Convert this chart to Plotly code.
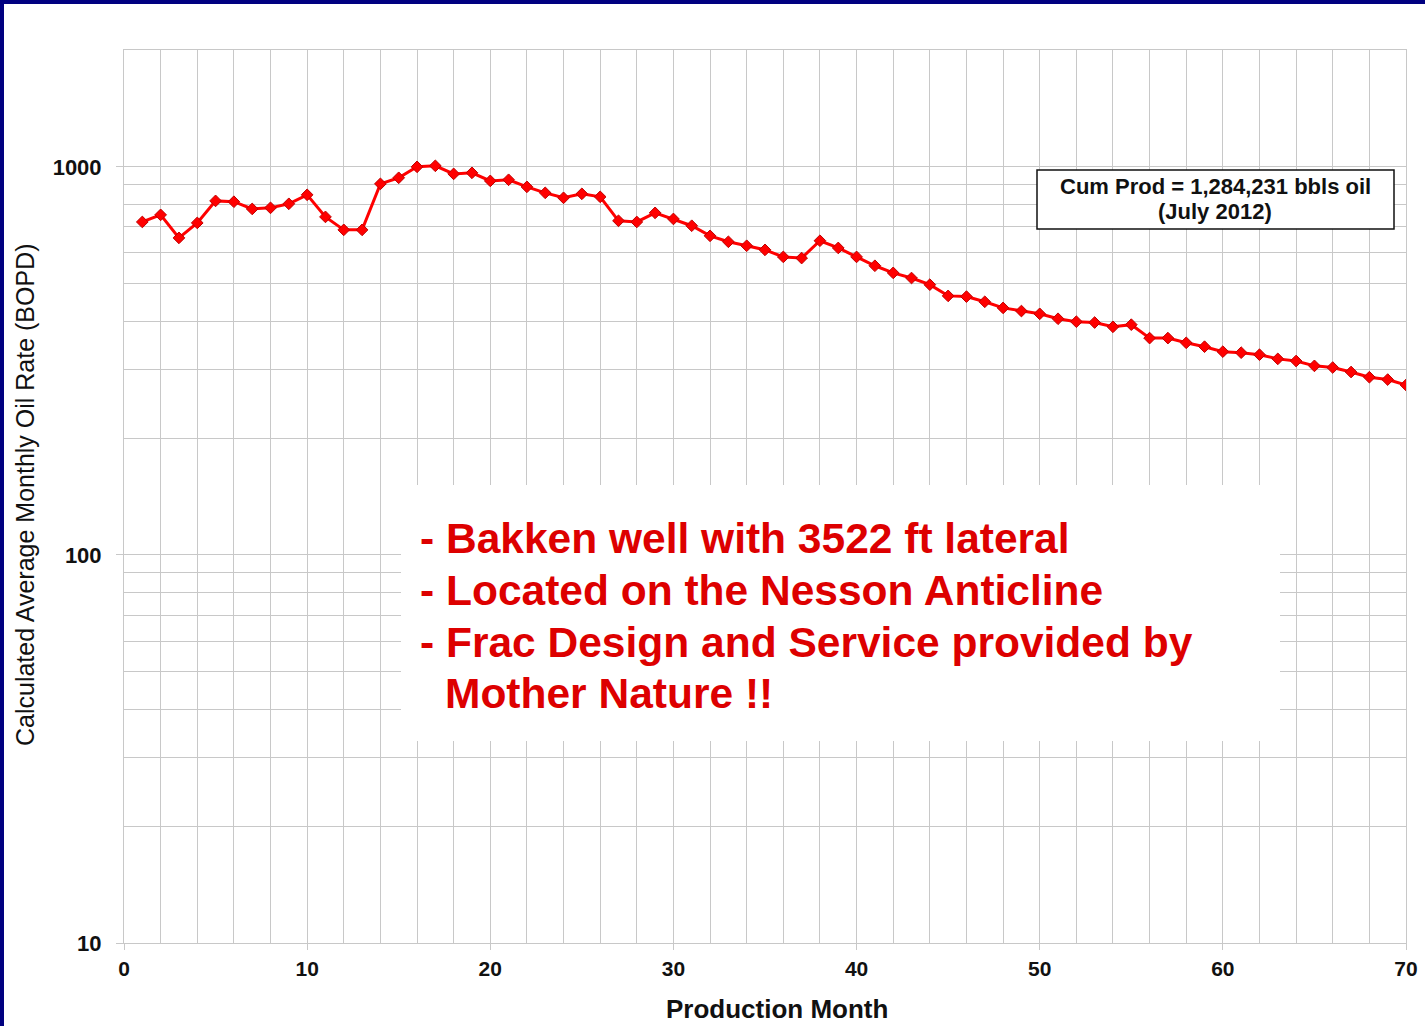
import plotly.graph_objects as go

# Average monthly oil rate of a Bakken well, by production month
months = list(range(1, 71))
oil_rate_bopd = [
    721, 752, 656, 717, 817, 813, 779, 784, 803, 847,
    743, 688, 688, 904, 937, 1000, 1006, 959, 965, 920,
    926, 888, 857, 832, 852, 837, 726, 721, 761, 734,
    705, 664, 641, 626, 611, 586, 582, 645, 618, 586,
    556, 533, 517, 497, 465, 463, 449, 433, 425, 418,
    406, 399, 397, 387, 392, 362, 362, 352, 344, 334,
    332, 328, 320, 316, 307, 304, 296, 287, 283, 274,
]

x_tick_vals = [0, 10, 20, 30, 40, 50, 60, 70]
y_tick_vals = [10, 100, 1000]
y_tick_text = ["10", "100", "1000"]

cum_prod_lines = ["Cum Prod = 1,284,231 bbls oil", "(July 2012)"]
note_lines = [
    "- Bakken well with 3522 ft lateral",
    "- Located on the Nesson Anticline",
    "- Frac Design and Service provided by",
    "  Mother Nature !!",
]

W, H = 1425, 1026
L, R, T, B = 124, 19, 50, 83
PW, PH = W - L - R, H - T - B


def px_x(p):
    return (p - L) / PW


def px_y(p):
    return (H - B - p) / PH


GRID = "#c8c8c8"
RED = "#ff0000"
TEXT_RED = "#dd0000"
INK = "#111111"
FONT = "Liberation Sans, Arial, sans-serif"

minor_y = [v * d for d in (10, 100, 1000) for v in range(2, 10) if v * d < 2000]

fig = go.Figure()
fig.add_trace(go.Scatter(
    x=months, y=oil_rate_bopd, mode="lines+markers",
    line=dict(color=RED, width=3),
    marker=dict(symbol="diamond", size=9, color=RED,
                line=dict(color="#c00000", width=1)),
    showlegend=False,
))

shapes = [
    # white page inside the navy frame
    dict(type="rect", xref="paper", yref="paper", layer="below",
         x0=px_x(4), x1=px_x(W + 5), y0=px_y(H + 5), y1=px_y(4),
         fillcolor="white", line=dict(width=0)),
    # white panel behind the notes
    dict(type="rect", xref="paper", yref="paper", layer="above",
         x0=px_x(401), x1=px_x(1280), y0=px_y(741), y1=px_y(485),
         fillcolor="white", line=dict(width=0)),
    # box around cumulative production
    dict(type="rect", xref="paper", yref="paper", layer="above",
         x0=px_x(1037), x1=px_x(1394), y0=px_y(229), y1=px_y(170),
         fillcolor="white", line=dict(color=INK, width=1.5)),
]

annotations = []
for line, cy in zip(cum_prod_lines, [187, 211]):
    annotations.append(dict(
        text="<b>" + line + "</b>", xref="paper", yref="paper",
        x=px_x(1215), y=px_y(cy), xanchor="center", yanchor="middle",
        showarrow=False, font=dict(family=FONT, size=22, color=INK),
    ))

note_x = [418, 418, 418, 443]
note_y = [538, 590, 642, 693]
for line, nx, ny in zip(note_lines, note_x, note_y):
    annotations.append(dict(
        text="<b>" + line.strip() + "</b>", xref="paper", yref="paper",
        x=px_x(nx), y=px_y(ny), xanchor="left", yanchor="middle",
        showarrow=False, font=dict(family=FONT, size=42.5, color=TEXT_RED),
    ))

# axis titles
annotations.append(dict(
    text="<b>Production Month</b>", xref="paper", yref="paper",
    x=px_x(777), y=px_y(1009), xanchor="center", yanchor="middle",
    showarrow=False, font=dict(family=FONT, size=26, color=INK),
))
annotations.append(dict(
    text="Calculated Average Monthly Oil Rate (BOPD)", xref="paper", yref="paper",
    x=px_x(25), y=px_y(495), xanchor="center", yanchor="middle", textangle=-90,
    showarrow=False, font=dict(family=FONT, size=25, color=INK),
))

fig.update_layout(
    width=W, height=H,
    margin=dict(l=L, r=R, t=T, b=B, autoexpand=False),
    paper_bgcolor="#000080",
    plot_bgcolor="white",
    shapes=shapes,
    annotations=annotations,
    font=dict(family=FONT, color=INK),
    xaxis=dict(
        range=[0, 70], tickvals=x_tick_vals,
        ticktext=["<b>%d</b>" % v for v in x_tick_vals],
        tickfont=dict(size=21, color=INK),
        ticks="outside", ticklen=6, tickcolor=GRID,
        showgrid=True, gridcolor=GRID, gridwidth=1,
        minor=dict(dtick=2, showgrid=True, gridcolor=GRID, gridwidth=1),
        showline=True, linecolor=GRID, linewidth=1, mirror=True,
        zeroline=False, ticklabelstandoff=1,
        automargin=False,
    ),
    yaxis=dict(
        type="log", range=[1, 3.30103],
        tickvals=y_tick_vals,
        ticktext=["<b>%s</b>" % t for t in y_tick_text],
        tickfont=dict(size=22, color=INK),
        ticks="outside", ticklen=7, tickcolor=GRID,
        showgrid=True, gridcolor=GRID, gridwidth=1,
        minor=dict(tickvals=minor_y, showgrid=True, gridcolor=GRID, gridwidth=1),
        showline=True, linecolor=GRID, linewidth=1, mirror=True,
        zeroline=False, ticklabelstandoff=10,
        automargin=False,
    ),
)

fig.write_html("out.html")
